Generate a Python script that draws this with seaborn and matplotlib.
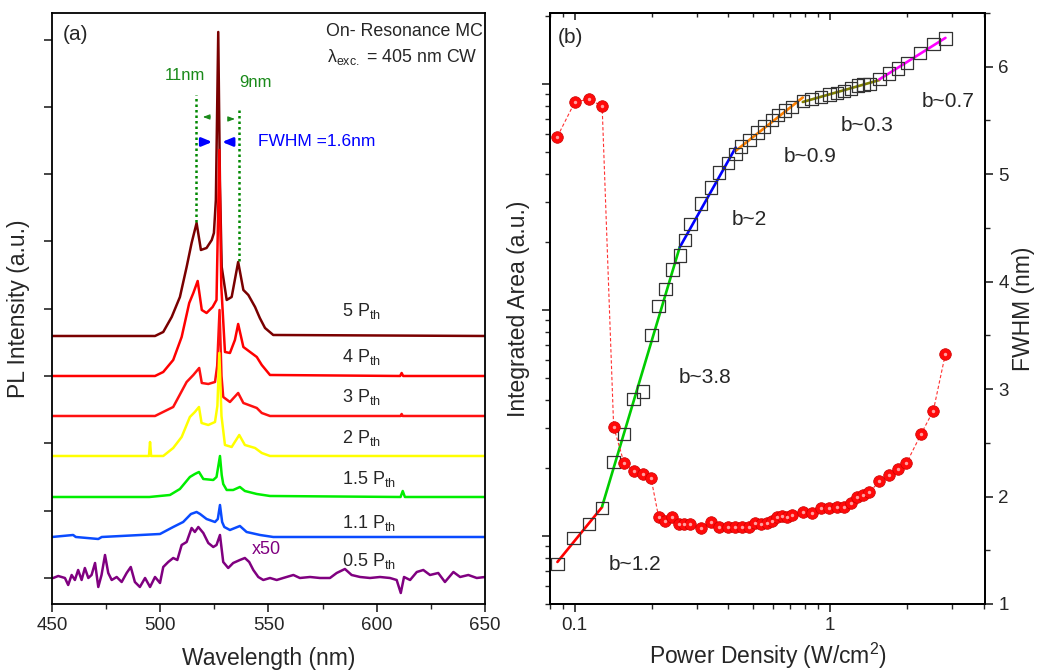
import numpy as np
import pandas as pd
import seaborn as sns
import matplotlib.pyplot as plt
from matplotlib.ticker import MultipleLocator, LogLocator, NullFormatter

# ---------------- (a) PL spectra (a.u. above each trace's own baseline)
labels = ["5", "4", "3", "2", "1.5", "1.1", "0.5"]
colors = ["#7a0000", "#ff0000", "#ff1010", "#ffff00", "#00ee00", "#0a4bff", "#800080"]
offsets = [242, 202, 162, 122, 81, 41, 0]
label_rise = [20, 14, 14, 13, 13, 9, 12]

wl_5 = [450, 497.6, 501.4, 505.3, 509.1, 512.2, 514.5, 516.8, 518.8, 521.4, 523.8, 524.8, 525.7,
        526.8, 527.6, 528.4, 530.7, 533, 536, 538.4, 540.7, 543.8, 546, 548.4, 552.2, 650]
pl_5 = [0, 0, 4, 19, 39, 69, 93, 113, 86, 88, 96, 103, 136,
        304, 150, 69, 36, 39, 74, 46, 41, 29, 18, 8, 1, 0]

wl_4 = [450, 497.6, 501.4, 506, 509.9, 513.4, 515.3, 517.3, 519.2, 521.4, 524.2, 526, 527.3,
        528.2, 529.9, 532.2, 534.5, 536, 538.4, 541.5, 544.6, 546.9, 550.7, 610.8, 611.5, 612.2, 650]
pl_4 = [0, 0, 4, 16, 39, 73, 83, 95, 66, 63, 69, 76, 226,
        90, 24, 23, 36, 52, 29, 24, 19, 11, 1, 0, 3, 0, 0]

wl_3 = [450, 497.6, 506, 512.2, 515.3, 518, 519.2, 522.2, 525.3, 526.3, 527.4, 528.3, 529.1,
        532.2, 536, 538.4, 544.6, 546.9, 550.7, 611, 611.5, 612, 650]
pl_3 = [0, 0, 9, 34, 41, 48, 33, 32, 34, 50, 106, 40, 19,
        14, 23, 13, 8, 3, 0, 0, 2, 0, 0]

wl_2 = [450, 494.8, 495.3, 495.8, 501.4, 506, 509.9, 513.7, 516, 517.9, 519.1, 522.2, 525.3,
        526.4, 527.3, 528.3, 529.9, 533, 536.5, 539.1, 543.8, 546.9, 550.7, 650]
pl_2 = [0, 0, 14, 0, 0, 8, 19, 39, 44, 49, 33, 31, 34,
        50, 103, 40, 11, 9, 21, 11, 8, 3, 0, 0]

wl_15 = [450, 495, 504.5, 509.1, 513.7, 516, 517.9, 519.9, 524.5, 526, 527.6, 528.4, 529.1,
         530.7, 533.7, 536.8, 539.1, 544.6, 550.7, 611, 612, 613, 650]
pl_15 = [0, 0, 2, 8, 20, 23, 25, 18, 17, 20, 41, 22, 13,
         7, 7, 10, 6, 3, 1, 0, 6, 0, 0]

wl_11 = [450, 459.8, 461, 471.4, 473, 499.9, 506, 510.6, 514.2, 516.8, 518.4, 521.4, 525.3,
         526.6, 527.6, 528.6, 529.6, 532.2, 536.8, 539.9, 546.1, 552.2, 650]
pl_11 = [0, 2, 0, -2, 0, 3, 10, 15, 23, 25, 23, 18, 15,
         18, 32, 15, 10, 7, 11, 5, 2, 0, 0]

wl_05 = [450, 450.6, 452.9, 456, 457.5, 459.1, 460.6, 462.1, 463.7, 465.2, 466.8, 468.3, 469.9,
         471.4, 472.9, 474.5, 476, 477.6, 479.9, 482.2, 484.5, 486.4, 488.3, 490.6, 493, 495.3,
         497.6, 499.9, 501.4, 503.7, 506, 507.9, 509.9, 512.2, 514.5, 516, 517.6, 519.9, 522.2,
         524.5, 526, 527.6, 529.1, 531.4, 533.7, 536.8, 539.1, 541.1, 543, 545.3, 547.6, 550.7,
         553.8, 556.8, 561.5, 564.5, 569.2, 573.8, 578.4, 581.5, 585.3, 588.4, 592.3, 596.9,
         601.5, 606.1, 609.2, 611.1, 612.6, 615.4, 618.5, 621.5, 624.6, 628.4, 631.5, 635.4,
         638.5, 642.3, 646.2, 650]
pl_05 = [0, 0, 2, 0, -7, 3, -2, 8, -2, 10, 0, 3, 15,
         -9, 3, 23, 5, -2, 1, -4, 5, 11, -4, -9, 0, -9,
         1, -5, 11, 16, 20, 18, 33, 36, 50, 46, 51, 45, 35,
         31, 33, 43, 16, 10, 15, 18, 20, 16, 8, 1, -2, 0,
         -2, 0, 3, 0, 1, 0, 0, 5, 9, 3, 1, 0,
         1, 0, -2, -15, 1, -2, 6, 8, 3, 5, -4, 6,
         1, 3, 0, 1]

spectra_wl = [wl_5, wl_4, wl_3, wl_2, wl_15, wl_11, wl_05]
spectra_pl = [pl_5, pl_4, pl_3, pl_2, pl_15, pl_11, pl_05]

# ---------------- (b) power dependence
power_sq = [0.0855, 0.099, 0.1135, 0.128, 0.142, 0.156, 0.170, 0.185, 0.200, 0.213, 0.227, 0.241,
            0.258, 0.270, 0.284, 0.312, 0.341, 0.368, 0.399, 0.427, 0.449, 0.483, 0.519, 0.551,
            0.594, 0.625, 0.667, 0.708, 0.782, 0.847, 0.920, 0.994, 1.063, 1.135, 1.208, 1.284,
            1.351, 1.426, 1.561, 1.703, 1.843, 2.00, 2.254, 2.543, 2.833]
area = [0.750, 0.977, 1.13, 1.33, 2.12, 2.82, 4.04, 4.35, 7.74, 10.4, 12.4, 15.1,
        17.4, 20.4, 24.0, 29.6, 34.8, 40.6, 44.6, 48.9, 52.8, 56.5, 61.0, 64.7,
        69.3, 72.8, 76.2, 78.9, 84.1, 85.5, 87.3, 89.7, 91.2, 93.3, 95.3, 98.2,
        99.3, 100.2, 105.4, 111.4, 117.2, 123.6, 136.8, 150.0, 158.5]

power_fw = [0.0855, 0.100, 0.1138, 0.128, 0.142, 0.156, 0.170, 0.185, 0.199, 0.213, 0.226, 0.241,
            0.255, 0.269, 0.283, 0.312, 0.341, 0.368, 0.397, 0.426, 0.453, 0.481, 0.510, 0.538,
            0.565, 0.594, 0.620, 0.649, 0.679, 0.710, 0.781, 0.851, 0.923, 0.994, 1.066, 1.135,
            1.205, 1.277, 1.350, 1.425, 1.561, 1.703, 1.841, 1.992, 2.272, 2.540, 2.833]
fwhm = [5.35, 5.67, 5.70, 5.63, 2.65, 2.31, 2.24, 2.21, 2.17, 1.81, 1.77, 1.81,
        1.74, 1.74, 1.74, 1.71, 1.76, 1.72, 1.72, 1.72, 1.72, 1.72, 1.75, 1.74,
        1.75, 1.77, 1.81, 1.82, 1.81, 1.83, 1.86, 1.85, 1.89, 1.89, 1.90, 1.90,
        1.94, 2.00, 2.01, 2.04, 2.14, 2.20, 2.26, 2.31, 2.58, 2.80, 3.33]

# power-law fit ranges (index into power_sq), colour, label
fit_ranges = [(0, 3), (3, 12), (12, 19), (19, 28), (28, 38), (38, 44)]
fit_colors = ["#ff0000", "#00cc00", "#0000ff", "#ff8000", "#808000", "#ff00ff"]
fit_labels = ["b~1.2", "b~3.8", "b~2", "b~0.9", "b~0.3", "b~0.7"]
fit_label_pos = [(0.134, 0.066), (0.295, 0.384), (0.418, 0.651), (0.536, 0.757), (0.667, 0.809), (0.854, 0.850)]

sns.set_style("ticks")
plt.rcParams["font.family"] = ["Liberation Sans", "DejaVu Sans"]
plt.rcParams["mathtext.fontset"] = "custom"
plt.rcParams["mathtext.rm"] = "Liberation Sans"
plt.rcParams["axes.linewidth"] = 1.3
plt.rcParams["axes.edgecolor"] = "black"

fig = plt.figure(figsize=(10.39, 6.72), dpi=100)
axL = fig.add_axes([0.050, 0.1012, 0.4168, 0.8795])
axR = fig.add_axes([0.5294, 0.1012, 0.4187, 0.8795])

# ---- panel (a)
rows = []
for lab, off, w, p in zip(labels, offsets, spectra_wl, spectra_pl):
    for wi, pi in zip(w, p):
        rows.append({"wl": wi, "y": pi + off, "P": lab})
df = pd.DataFrame(rows)
sns.lineplot(data=df, x="wl", y="y", hue="P", hue_order=labels,
             palette=dict(zip(labels, colors)), estimator=None, sort=False,
             lw=1.8, legend=False, ax=axL)

for lab, off, rise in zip(labels, offsets, label_rise):
    axL.text(584, off + rise, lab + r" P$_\mathregular{th}$", fontsize=13, va="baseline")
axL.text(542.2, 24, "x50", color="#800080", fontsize=13, va="baseline")

axL.plot([516.4, 516.4], [356, 483], ls=(0, (1, 1.2)), color="#008800", lw=1.8)
axL.plot([536.4, 536.4], [317, 471], ls=(0, (1, 1.2)), color="#008800", lw=1.8)
axL.text(511.4, 502, "11nm", color="#1a8a1a", fontsize=12, ha="center", va="center")
axL.text(544.2, 495, "9nm", color="#1a8a1a", fontsize=12, ha="center", va="center")
axL.annotate("", xy=(518.4, 461), xytext=(524.4, 461),
             arrowprops=dict(arrowstyle="-|>,head_length=0.4,head_width=0.15", color="#1a8a1a", lw=0.8))
axL.annotate("", xy=(535.8, 459), xytext=(530.7, 459),
             arrowprops=dict(arrowstyle="-|>,head_length=0.4,head_width=0.15", color="#1a8a1a", lw=0.8))
axL.annotate("", xy=(525.3, 436), xytext=(517.6, 436),
             arrowprops=dict(arrowstyle="-|>,head_length=0.6,head_width=0.25", color="#0000ff", lw=2))
axL.annotate("", xy=(527.3, 436), xytext=(535.3, 436),
             arrowprops=dict(arrowstyle="-|>,head_length=0.6,head_width=0.25", color="#0000ff", lw=2))
axL.text(545.2, 436, "FWHM =1.6nm", color="#0000ff", fontsize=12.5, va="center")

axL.text(0.025, 0.963, "(a)", transform=axL.transAxes, fontsize=15, va="center")
axL.text(0.995, 0.968, "On- Resonance MC", transform=axL.transAxes, fontsize=12.8, ha="right", va="center")
axL.text(0.635, 0.925, r"λ$_\mathregular{exc.}$ = 405 nm CW", transform=axL.transAxes,
         fontsize=12.8, ha="left", va="center")

axL.set_xlim(450, 650)
axL.set_ylim(-26, 565)
axL.xaxis.set_major_locator(MultipleLocator(50))
axL.xaxis.set_minor_locator(MultipleLocator(25))
axL.yaxis.set_major_locator(MultipleLocator(67.3))
axL.set_yticklabels([])
axL.tick_params(axis="both", which="major", length=6, width=1.2, labelsize=13.5)
axL.tick_params(axis="x", which="minor", length=3.5, width=1.0)
axL.set_xlabel("Wavelength (nm)", fontsize=16.5)
axL.set_ylabel("PL Intensity (a.u.)", fontsize=16.5)
axL.xaxis.set_label_coords(0.5, -0.073)
axL.yaxis.set_label_coords(-0.051, 0.5)

# ---- panel (b)
ax2 = axR.twinx()
axR.set_xscale("log")
axR.set_yscale("log")

lp = np.log10(power_sq)
la = np.log10(area)
for (i0, i1), c in zip(fit_ranges, fit_colors):
    m, b0 = np.polyfit(lp[i0:i1 + 1], la[i0:i1 + 1], 1)
    xs = np.array([power_sq[i0], power_sq[i1]])
    sns.lineplot(x=xs, y=10 ** (m * np.log10(xs) + b0), color=c, lw=1.9, ax=axR)

sns.scatterplot(x=power_sq, y=area, marker="s", s=80, facecolor="none",
                edgecolor="#333333", linewidth=0.9, ax=axR, zorder=3)

for txt, (fx, fy) in zip(fit_labels, fit_label_pos):
    axR.text(fx, fy, txt, transform=axR.transAxes, fontsize=15, va="center")
axR.text(0.018, 0.958, "(b)", transform=axR.transAxes, fontsize=15, va="center")

sns.lineplot(x=power_fw, y=fwhm, color="#ff3030", lw=0.8, ls=(0, (3, 2)),
             estimator=None, sort=False, ax=ax2)
sns.scatterplot(x=power_fw, y=fwhm, s=70, color="#ff0a0a", edgecolor="#cc0000",
                linewidth=0.5, ax=ax2, zorder=4)
sns.scatterplot(x=power_fw, y=fwhm, s=6, color="#ffa0a0", linewidth=0, ax=ax2, zorder=5)

axR.set_xlim(0.08, 4.05)
axR.set_ylim(0.5, 206)
axR.set_xticks([0.1, 1], labels=["0.1", "1"])
axR.xaxis.set_minor_locator(LogLocator(base=10, subs=np.arange(2, 10)))
axR.xaxis.set_minor_formatter(NullFormatter())
axR.yaxis.set_major_locator(LogLocator(base=10))
axR.yaxis.set_minor_locator(LogLocator(base=10, subs=np.arange(2, 10)))
axR.yaxis.set_major_formatter(NullFormatter())
axR.yaxis.set_minor_formatter(NullFormatter())
axR.tick_params(axis="both", which="major", length=6, width=1.2, labelsize=13.5)
axR.tick_params(axis="both", which="minor", length=3.5, width=1.0)
axR.set_xlabel("Power Density (W/cm$^\\mathregular{2}$)", fontsize=16.5)
axR.set_ylabel("Integrated Area (a.u.)", fontsize=16.5)
axR.xaxis.set_label_coords(0.5, -0.062)
axR.yaxis.set_label_coords(-0.046, 0.5)

top = axR.secondary_xaxis("top")
top.tick_params(axis="x", which="major", direction="in", length=5, width=1.2, labeltop=False)
top.tick_params(axis="x", which="minor", direction="in", length=3, width=1.0)

ax2.set_ylim(1, 6.5)
ax2.yaxis.set_major_locator(MultipleLocator(1))
ax2.yaxis.set_minor_locator(MultipleLocator(0.5))
ax2.tick_params(axis="y", which="major", length=6, width=1.2, labelsize=13.5)
ax2.tick_params(axis="y", which="minor", length=3.5, width=1.0)
ax2.set_ylabel("FWHM (nm)", fontsize=16.5)
ax2.yaxis.set_label_coords(1.062, 0.5)
for a in (axL, axR, ax2):
    for s in a.spines.values():
        s.set_visible(True)
        s.set_linewidth(1.3)

fig.savefig("out.png", dpi=100)
